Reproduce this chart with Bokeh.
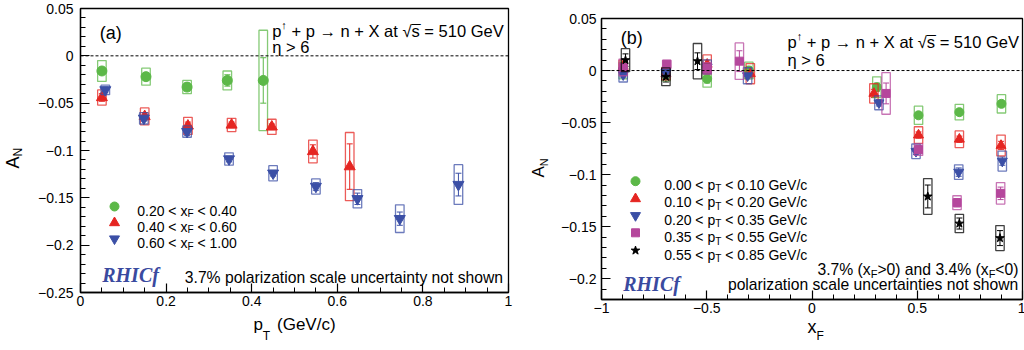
import numpy as np
from bokeh.plotting import figure
from bokeh.models import (ColumnDataSource, Whisker, TeeHead, Span, Label,
                          FixedTicker, CustomJSTickFormatter, Range1d)
from bokeh.layouts import row, column
from bokeh.embed import file_html
from bokeh.resources import INLINE

# ---------------- Panel (a): A_N vs pT ----------------
a_green_pt = [0.050, 0.153, 0.249, 0.343, 0.427]
a_green_an = [-0.016, -0.022, -0.033, -0.026, -0.026]
a_green_stat = [0.003, 0.004, 0.004, 0.006, 0.024]
a_green_sys = [0.011, 0.009, 0.007, 0.010, 0.053]

a_red_pt = [0.050, 0.150, 0.251, 0.353, 0.447, 0.543, 0.629]
a_red_an = [-0.044, -0.064, -0.074, -0.073, -0.075, -0.101, -0.117]
a_red_stat = [0.004, 0.004, 0.004, 0.003, 0.003, 0.007, 0.024]
a_red_sys = [0.008, 0.009, 0.009, 0.007, 0.008, 0.012, 0.036]

a_blue_pt = [0.058, 0.148, 0.249, 0.347, 0.450, 0.550, 0.647, 0.746, 0.883]
a_blue_an = [-0.036, -0.066, -0.080, -0.109, -0.124, -0.138, -0.151, -0.172, -0.136]
a_blue_stat = [0.003, 0.003, 0.004, 0.003, 0.003, 0.004, 0.006, 0.007, 0.012]
a_blue_sys = [0.005, 0.006, 0.006, 0.0065, 0.008, 0.008, 0.0097, 0.0146, 0.021]

a_legend = [("0.20 < x", "F", " < 0.40"),
            ("0.40 < x", "F", " < 0.60"),
            ("0.60 < x", "F", " < 1.00")]

# ---------------- Panel (b): A_N vs xF ----------------
b_green_xf = [-0.897, -0.694, -0.498, -0.300, 0.308, 0.506, 0.700, 0.900]
b_green_an = [0.000, -0.004, -0.008, 0.000, -0.016, -0.043, -0.040, -0.032]
b_green_stat = [0.004, 0.004, 0.004, 0.004, 0.004, 0.003, 0.003, 0.003]
b_green_sys = [0.008, 0.006, 0.008, 0.008, 0.010, 0.0088, 0.0075, 0.0088]

b_red_xf = [-0.897, -0.694, -0.498, -0.293, 0.294, 0.506, 0.700, 0.898]
b_red_an = [0.004, -0.003, 0.006, -0.003, -0.022, -0.062, -0.066, -0.072]
b_red_stat = [0.004, 0.004, 0.004, 0.004, 0.004, 0.003, 0.003, 0.004]
b_red_sys = [0.006, 0.006, 0.009, 0.0097, 0.0093, 0.008, 0.008, 0.010]

b_blue_xf = [-0.897, -0.694, -0.498, -0.306, 0.318, 0.494, 0.697, 0.904]
b_blue_an = [-0.004, -0.002, 0.0035, -0.005, -0.031, -0.0776, -0.0976, -0.087]
b_blue_stat = [0.003, 0.003, 0.003, 0.003, 0.003, 0.003, 0.004, 0.004]
b_blue_sys = [0.007, 0.004, 0.0067, 0.0077, 0.0067, 0.007, 0.007, 0.0096]

b_mag_xf = [-0.897, -0.690, -0.498, -0.345, 0.352, 0.506, 0.689, 0.896]
b_mag_an = [0.003, 0.006, 0.002, 0.009, -0.022, -0.076, -0.127, -0.118]
b_mag_stat = [0.004, 0.003, 0.003, 0.010, 0.010, 0.004, 0.004, 0.006]
b_mag_sys = [0.008, 0.004, 0.0055, 0.0175, 0.020, 0.0056, 0.0067, 0.0103]

b_black_xf = [-0.886, -0.694, -0.544, 0.550, 0.700, 0.893]
b_black_an = [0.010, -0.006, 0.009, -0.121, -0.147, -0.161]
b_black_stat = [0.006, 0.005, 0.008, 0.011, 0.0053, 0.0072]
b_black_sys = [0.011, 0.0085, 0.017, 0.0172, 0.0088, 0.012]

b_legend = [("0.00 < p", "T", " < 0.10 GeV/c"),
            ("0.10 < p", "T", " < 0.20 GeV/c"),
            ("0.20 < p", "T", " < 0.35 GeV/c"),
            ("0.35 < p", "T", " < 0.55 GeV/c"),
            ("0.55 < p", "T", " < 0.85 GeV/c")]

GREEN = "#5cb848"
RED = "#e52521"
BLUE = "#3b4fa6"
MAGENTA = "#b5479c"
BLACK = "#000000"
RHIC_COLOR = "#3a4a9f"
FONT = "Liberation Sans"

# Arial / Liberation Sans advance widths (per 1000 em)
W = {' ': 278, '\u00a0': 278, '.': 278, '<': 584, '>': 584, '=': 584, '+': 584, '(': 333, ')': 333,
     '/': 278, '%': 889, '\u2192': 1000, '\u2191': 500, '\u221a': 549, '\u03b7': 556,
     'a': 556, 'b': 556, 'c': 500, 'd': 556, 'e': 556, 'f': 278, 'g': 556, 'h': 556,
     'i': 222, 'l': 222, 'n': 556, 'o': 556, 'p': 556, 'r': 333, 's': 500, 't': 278,
     'u': 556, 'w': 722, 'x': 500, 'y': 500, 'z': 500, 'A': 667, 'F': 611, 'G': 778,
     'N': 722, 'T': 611, 'V': 667, 'X': 667}
for d in "0123456789":
    W[d] = 556


def tw(s, size):
    return sum(W.get(c, 556) for c in s) * size / 1000.0


class Panel:
    def __init__(self, fig, left, top, fw, fh, xr, yr):
        self.fig, self.left, self.top, self.fw, self.fh = fig, left, top, fw, fh
        self.xr, self.yr = xr, yr

    def data(self, px, py):
        x = self.xr[0] + (px - self.left) * (self.xr[1] - self.xr[0]) / self.fw
        y = self.yr[1] - (py - self.top) * (self.yr[1] - self.yr[0]) / self.fh
        return x, y


def put(P, px, py, text, size, color="black", font=FONT, style="normal", angle=0.0,
        side=None, baseline="alphabetic"):
    stripped = text.lstrip(" ")
    px = px + tw(text[:len(text) - len(stripped)], size)
    if not stripped:
        return
    x, y = P.data(px, py)
    lab = Label(x=x, y=y, text=stripped, text_font=font,
                text_font_size=f"{size}px", text_font_style=style,
                text_color=color, text_align="left",
                text_baseline=baseline, angle=angle)
    if side is None:
        P.fig.add_layout(lab)
    else:
        P.fig.add_layout(lab, side)


def rich(P, px, py, parts, size, small, drop, rise=6, color="black"):
    starts = []
    x = px
    for text, kind in parts:
        starts.append(x)
        if kind == "n":
            put(P, x, py, text, size, color)
            x += tw(text, size)
        elif kind == "sub":
            put(P, x, py + drop, text, small, color)
            x += tw(text, small)
        else:
            put(P, x, py - rise, text, small, color)
            x += tw(text, small)
    return starts


def rich_width(parts, size, small):
    return sum(tw(t, size if k == "n" else small) for t, k in parts)


FMT = CustomJSTickFormatter(code="return tick.toString().replace('-', '\\u2212');")


def make_fig(xr, yr, fw, fh, bl, br, bt, bb, xt, xm, yt, ym, ystand):
    p = figure(x_range=Range1d(*xr), y_range=Range1d(*yr), frame_width=fw, frame_height=fh,
               min_border_left=bl, min_border_right=br, min_border_top=bt, min_border_bottom=bb,
               output_backend="svg", toolbar_location=None,
               background_fill_color="white", border_fill_color="white")
    try:
        p.title = None
    except Exception:
        p.title.text_font_size = "0px"
    p.grid.visible = False
    p.outline_line_color = "black"
    p.outline_line_width = 1.3
    p.xaxis.ticker = FixedTicker(ticks=xt, minor_ticks=xm)
    p.yaxis.ticker = FixedTicker(ticks=yt, minor_ticks=ym)
    for ax in (p.xaxis[0], p.yaxis[0]):
        ax.formatter = FMT
        ax.axis_line_color = "black"
        ax.axis_line_width = 1.3
        ax.major_tick_in = 9
        ax.major_tick_out = 0
        ax.minor_tick_in = 5
        ax.minor_tick_out = 0
        ax.major_tick_line_width = 1.2
        ax.minor_tick_line_width = 1.0
        ax.major_label_text_font = FONT
        ax.major_label_text_font_size = "14px"
        ax.major_label_text_color = "black"
        ax.axis_label_text_font = FONT
        ax.axis_label_text_font_style = "normal"
        ax.axis_label_text_color = "black"
    p.yaxis.major_label_standoff = ystand
    p.xaxis.major_label_standoff = 3
    p.add_layout(Span(location=0, dimension="width", line_color="black",
                      line_dash="3 2", line_width=1))
    return p


def series(p, x, y, stat, sys, color, marker, size, box_w):
    y = np.array(y, dtype=float)
    stat = np.array(stat, dtype=float)
    sys = np.array(sys, dtype=float)
    src = ColumnDataSource(dict(x=x, y=y, lo=y - stat, hi=y + stat, h=2 * sys))
    p.rect(x="x", y="y", width=box_w, height="h", source=src, fill_alpha=0,
           line_color=color, line_width=1.3, line_alpha=0.75)
    p.add_layout(Whisker(source=src, base="x", lower="lo", upper="hi", dimension="height",
                         line_color=color, line_width=1,
                         upper_head=TeeHead(size=6, line_color=color, line_width=1),
                         lower_head=TeeHead(size=6, line_color=color, line_width=1)))
    p.scatter(x="x", y="y", source=src, marker=marker, size=size,
              fill_color=color, line_color=color)


TITLE_PARTS = [("p", "n"), ("\u2191", "sup"), (" + p \u2192 n + X at \u221a", "n"),
               ("s", "n"), (" = 510 GeV", "n")]
TSIZE = 16.5

# ---------------- Panel (a) ----------------
A_XR, A_YR = (0, 1), (-0.25, 0.05)
pa = make_fig(A_XR, A_YR, 428, 284, 80, 12, 8, 56,
              [0, 0.2, 0.4, 0.6, 0.8, 1],
              list(np.round(np.arange(0, 1.0001, 0.05), 3)),
              [-0.25, -0.2, -0.15, -0.1, -0.05, 0, 0.05],
              list(np.round(np.arange(-0.25, 0.0501, 0.01), 3)), 7)
PA = Panel(pa, 80, 8, 428, 284, A_XR, A_YR)

series(pa, a_green_pt, a_green_an, a_green_stat, a_green_sys, GREEN, "circle", 10, 0.02)
series(pa, a_red_pt, a_red_an, a_red_stat, a_red_sys, RED, "triangle", 11, 0.02)
series(pa, a_blue_pt, a_blue_an, a_blue_stat, a_blue_sys, BLUE, "inverted_triangle", 11, 0.02)

# legend keys (a)
a_keys = [(GREEN, "circle", 9, 206.0), (RED, "triangle", 10, 222.3), (BLUE, "inverted_triangle", 10, 238.3)]
for (c, m, s, ky) in a_keys:
    kx, kyd = PA.data(114, ky)
    pa.scatter(x=[kx], y=[kyd], marker=m, size=s, fill_color=c, line_color=c)
for (parts, base) in zip(a_legend, [210.0, 226.3, 242.7]):
    rich(PA, 136.7, base, [(parts[0], "n"), (parts[1], "sub"), (parts[2], "n")], 14, 10, 3)

put(PA, 99.3, 32.0, "(a)", 18)
st = rich(PA, 271.7, 30.0, TITLE_PARTS, TSIZE, 11, 0, rise=6)
put(PA, st[3], 30.0, "\u00af", TSIZE)
put(PA, 271.7, 46.0, "\u03b7 > 6", TSIZE)
put(PA, 101.7, 274.0, "RHICf", 20, color=RHIC_COLOR, font="Liberation Serif", style="bold italic")
put(PA, 184.3, 276.7, "3.7% polarization scale uncertainty not shown", 15.7)
# axis titles (a)
XLAB_A = "p\u00a0\u00a0\u00a0(GeV/c)"
pa.xaxis.axis_label = XLAB_A
pa.xaxis.axis_label_text_font_size = "17px"
pa.xaxis.axis_label_standoff = 6
p_start = 80 + 428 / 2 - tw(XLAB_A, 17) / 2
put(PA, p_start + tw("p", 17), 335.5, "T", 12, side="right", baseline="middle")
put(PA, 12, 168, "A", 18, angle=np.pi / 2, side="left", baseline="middle")
put(PA, 17, 156, "N", 12, angle=np.pi / 2, side="left", baseline="middle")

# ---------------- Panel (b) ----------------
B_XR, B_YR = (-1, 1), (-0.22, 0.05)
B_FW = 421
pb = make_fig(B_XR, B_YR, B_FW, 281, 80, 3, 18, 50,
              [-1, -0.5, 0, 0.5, 1],
              list(np.round(np.arange(-1, 1.0001, 0.1), 3)),
              [-0.2, -0.15, -0.1, -0.05, 0, 0.05],
              list(np.round(np.arange(-0.22, 0.0501, 0.01), 3)), 5)
PB = Panel(pb, 600, 18, B_FW, 281, B_XR, B_YR)

series(pb, b_green_xf, b_green_an, b_green_stat, b_green_sys, GREEN, "circle", 9, 0.04)
series(pb, b_red_xf, b_red_an, b_red_stat, b_red_sys, RED, "triangle", 10, 0.04)
series(pb, b_blue_xf, b_blue_an, b_blue_stat, b_blue_sys, BLUE, "inverted_triangle", 10, 0.04)
series(pb, b_mag_xf, b_mag_an, b_mag_stat, b_mag_sys, MAGENTA, "square", 8, 0.04)
series(pb, b_black_xf, b_black_an, b_black_stat, b_black_sys, BLACK, "star", 9, 0.04)

b_keys = [(GREEN, "circle", 9, 180.7), (RED, "triangle", 10, 198.3), (BLUE, "inverted_triangle", 10, 215.0),
          (MAGENTA, "square", 8, 232.3), (BLACK, "star", 9, 250.0)]
for (c, m, s, ky) in b_keys:
    kx, kyd = PB.data(634, ky)
    pb.scatter(x=[kx], y=[kyd], marker=m, size=s, fill_color=c, line_color=c)
for (parts, base) in zip(b_legend, [184.0, 201.7, 219.0, 236.7, 254.0]):
    rich(PB, 662.7, base, [(parts[0], "n"), (parts[1], "sub"), (parts[2], "n")], 14, 10, 4)

put(PB, 619.3, 37.0, "(b)", 18)
st = rich(PB, 786.0, 41.5, TITLE_PARTS, TSIZE, 11, 0, rise=6)
put(PB, st[3], 41.5, "\u00af", TSIZE)
put(PB, 786.0, 59.3, "\u03b7 > 6", TSIZE)
put(PB, 621.7, 283.3, "RHICf", 20, color=RHIC_COLOR, font="Liberation Serif", style="bold italic")
note1 = [("3.7% (x", "n"), ("F", "sub"), (">0) and 3.4% (x", "n"), ("F", "sub"), ("<0)", "n")]
w1 = rich_width(note1, 15.7, 11)
rich(PB, 1017 - w1, 269.0, note1, 15.7, 11, 4)
note2 = "polarization scale uncertainties not shown"
put(PB, 1017 - tw(note2, 15.7), 284.3, note2, 15.7)
# axis titles (b)
pb.xaxis.axis_label = "x"
pb.xaxis.axis_label_text_font_size = "18px"
pb.xaxis.axis_label_standoff = 1
put(PB, 600 + B_FW / 2 + tw("x", 18) / 2, 335.0, "F", 12, side="left", baseline="middle")
put(PB, 537, 177, "A", 17, angle=np.pi / 2, side="left", baseline="middle")
put(PB, 542, 165.7, "N", 11, angle=np.pi / 2, side="left", baseline="middle")

layout = row(column(pa), column(pb))
open("out.html", "w").write(file_html(layout, INLINE))
